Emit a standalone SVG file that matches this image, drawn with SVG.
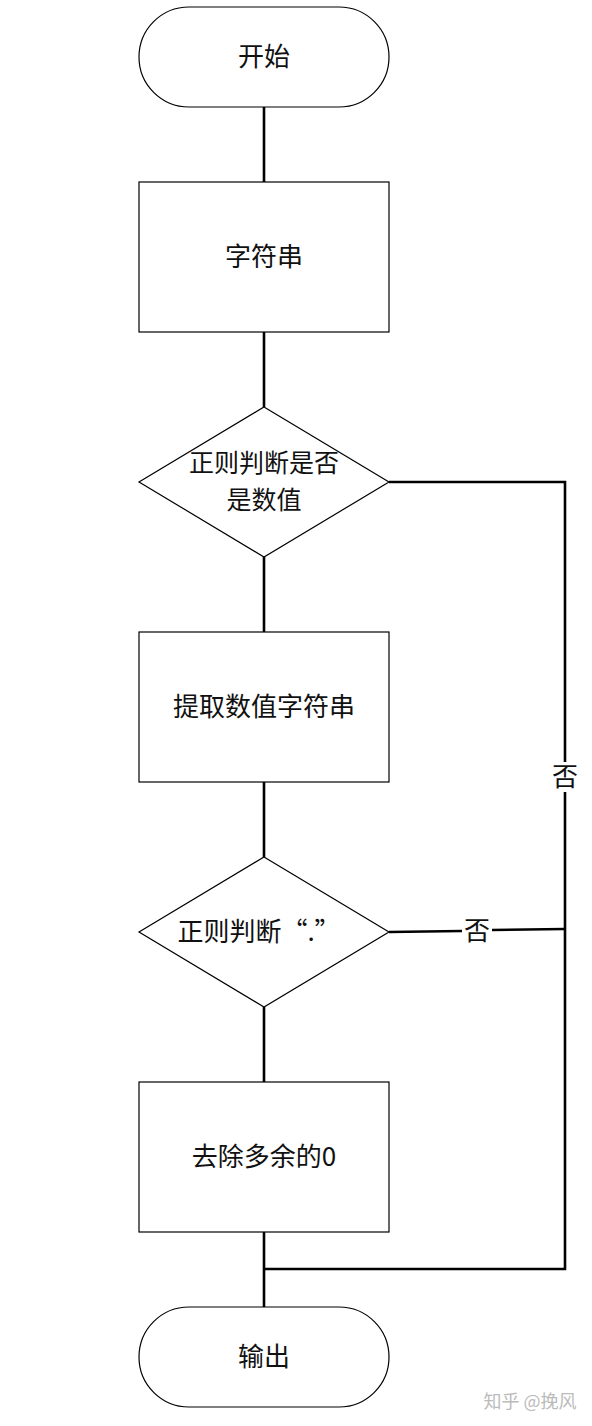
<svg xmlns="http://www.w3.org/2000/svg" width="592" height="1426" viewBox="0 0 592 1426">
<style>
.shape{fill:#fff;stroke:#000;stroke-width:1.2}
.conn{fill:none;stroke:#000;stroke-width:2.6}
text{font-family:"Noto Sans CJK SC","Liberation Sans",sans-serif;font-size:26px;fill:#111;text-anchor:middle;dominant-baseline:central}
.d1{font-size:25px}
.wm{font-size:18px;fill:#bbb}
</style>
<rect width="592" height="1426" fill="#fff"/>
<g id="connectors">
<line class="conn" x1="264" y1="107" x2="264" y2="182"/>
<line class="conn" x1="264" y1="332" x2="264" y2="407"/>
<line class="conn" x1="264" y1="557" x2="264" y2="632"/>
<line class="conn" x1="264" y1="782" x2="264" y2="857"/>
<line class="conn" x1="264" y1="1007" x2="264" y2="1082"/>
<line class="conn" x1="264" y1="1232" x2="264" y2="1307"/>
<polyline class="conn" points="389,482 565,482 565,762"/>
<polyline class="conn" points="565,792 565,1269 264,1269"/>
<line class="conn" x1="389" y1="932" x2="462" y2="931"/>
<line class="conn" x1="492" y1="930" x2="565" y2="929"/>
<text x="565" y="774">否</text>
<text x="477" y="928">否</text>
</g>
<g id="start"><rect class="shape" x="139" y="7" width="250" height="100" rx="50" ry="50"/><text x="264" y="54">开始</text></g>
<g id="str"><rect class="shape" x="139" y="182" width="250" height="150"/><text x="264" y="254">字符串</text></g>
<g id="dec1"><polygon class="shape" points="264,407 389,482 264,557 139,482"/><text class="d1" x="264" y="461">正则判断是否</text><text class="d1" x="264" y="498">是数值</text></g>
<g id="extract"><rect class="shape" x="139" y="632" width="250" height="150"/><text x="264" y="704">提取数值字符串</text></g>
<g id="dec2"><polygon class="shape" points="264,857 389,932 264,1007 139,932"/><text x="259" y="929">正则判断“.”</text></g>
<g id="trim"><rect class="shape" x="139" y="1082" width="250" height="150"/><text x="264" y="1154">去除多余的0</text></g>
<g id="end"><rect class="shape" x="139" y="1307" width="250" height="100" rx="50" ry="50"/><text x="264" y="1354">输出</text></g>
<text class="wm" x="530" y="1400">知乎 @挽风</text>
</svg>
